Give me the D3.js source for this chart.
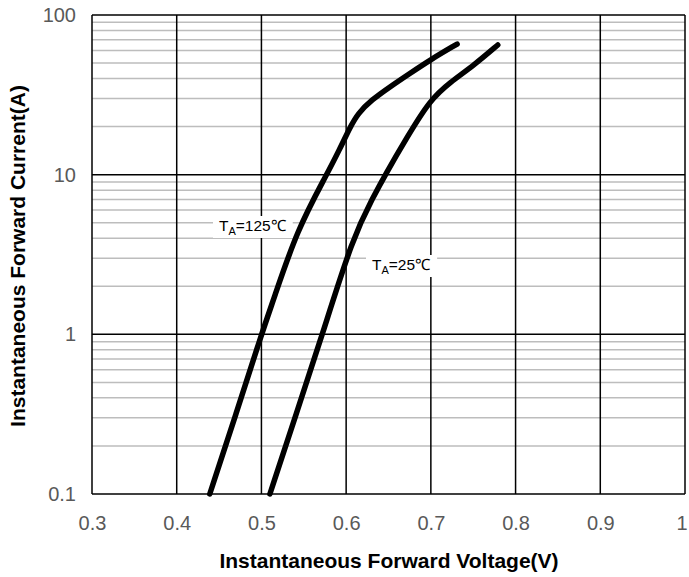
<!DOCTYPE html>
<html>
<head>
<meta charset="utf-8">
<script src="https://cdn.jsdelivr.net/npm/d3@7"></script>
<style>
  body { margin: 0; background: #fff; }
  svg { display: block; font-family: "Liberation Sans", Arial, sans-serif; }
</style>
</head>
<body>
<div class="viz"></div>
<script>
// data
var xTicks = [0.3, 0.4, 0.5, 0.6, 0.7, 0.8, 0.9, 1];
var yTicks = [0.1, 1, 10, 100];
var v125 = [0.439, 0.47, 0.5, 0.514, 0.542, 0.577, 0.592, 0.605, 0.614, 0.63, 0.652, 0.675, 0.699, 0.731];
var i125 = [0.1, 0.316, 1, 1.63, 4.5, 10, 14.3, 20, 24.2, 29.4, 35.6, 43, 52.3, 65.8];
var v25 = [0.51, 0.541, 0.572, 0.608, 0.632, 0.646, 0.672, 0.699, 0.723, 0.75, 0.779];
var i25 = [0.1, 0.316, 1, 4.07, 7.24, 9.96, 17.2, 29.4, 38, 48, 64.9];
var labels = ["T", "A", "=125℃", "=25℃"];

var SVGwd = 689, SVGht = 577;
var margin = { left: 92, right: 4, top: 15, bottom: 83 };

var canvas = d3.select(".viz")
    .append("svg")
    .attr("width", SVGwd)
    .attr("height", SVGht);

var x = d3.scaleLinear().domain([0.3, 1]).range([margin.left, SVGwd - margin.right]);
var y = d3.scaleLog().domain([0.1, 100]).range([SVGht - margin.bottom, margin.top]);

// minor grid
var minor = [];
[0.1, 1, 10].forEach(function (d) {
    for (var k = 2; k <= 9; k++) minor.push(d * k);
});

var grid = canvas.append("g");
grid.selectAll(".minor")
    .data(minor)
    .enter().append("line")
    .attr("x1", x(0.3)).attr("x2", x(1))
    .attr("y1", d => y(d)).attr("y2", d => y(d))
    .attr("stroke", "#bdbdbd")
    .attr("stroke-width", 1.5);

grid.selectAll(".major")
    .data(yTicks)
    .enter().append("line")
    .attr("x1", x(0.3)).attr("x2", x(1))
    .attr("y1", d => y(d)).attr("y2", d => y(d))
    .attr("stroke", "black")
    .attr("stroke-width", 1.5);

grid.selectAll(".vert")
    .data(xTicks)
    .enter().append("line")
    .attr("x1", d => x(d)).attr("x2", d => x(d))
    .attr("y1", y(0.1)).attr("y2", y(100))
    .attr("stroke", "black")
    .attr("stroke-width", 1.5);

// axes (labels only)
var xAxis = canvas.append("g")
    .attr("transform", `translate(0, ${y(0.1)})`)
    .call(d3.axisBottom(x).tickValues(xTicks).tickSize(0).tickPadding(22).tickFormat(d3.format("")));
var yAxis = canvas.append("g")
    .attr("transform", `translate(${x(0.3)}, 0)`)
    .call(d3.axisLeft(y).tickValues(yTicks).tickSize(0).tickPadding(16).tickFormat(d3.format("")));
[xAxis, yAxis].forEach(function (a) {
    a.select(".domain").remove();
    a.selectAll("text")
        .style("font-family", "Liberation Sans, Arial, sans-serif")
        .style("font-size", "20px")
        .attr("fill", "#595959");
});
// last x label sits on the edge, keep it inside
xAxis.selectAll("text").filter(d => d === 1).attr("text-anchor", "end").attr("dx", 2);

// curves
var line = d3.line()
    .x(d => x(d[0]))
    .y(d => y(d[1]))
    .curve(d3.curveBasis);

[[v125, i125], [v25, i25]].forEach(function (s) {
    var pts = s[0].map((v, k) => [v, s[1][k]]);
    canvas.append("path")
        .datum(pts)
        .attr("fill", "none")
        .attr("stroke", "black")
        .attr("stroke-width", 5.5)
        .attr("stroke-linecap", "round")
        .attr("d", line);
});

// curve labels
function addLabel(px, py, rest) {
    var g = canvas.append("g");
    var bg = g.append("rect").attr("fill", "white");
    var t = g.append("text")
        .attr("x", px).attr("y", py)
        .style("font-size", "15.5px")
        .attr("fill", "black");
    t.append("tspan").text(labels[0]);
    t.append("tspan").text(labels[1]).attr("dy", 4).style("font-size", "11px");
    t.append("tspan").text(rest).attr("dy", -4);
    var b = t.node().getBBox();
    bg.attr("x", b.x - 6).attr("y", b.y - 1).attr("width", b.width + 12).attr("height", b.height + 2);
}
addLabel(219, 231, labels[2]);
addLabel(372, 270, labels[3]);

// titles
canvas.append("text")
    .attr("x", 389).attr("y", 568)
    .attr("text-anchor", "middle")
    .style("font-size", "21px")
    .style("font-weight", "bold")
    .attr("fill", "black")
    .text("Instantaneous Forward Voltage(V)");

canvas.append("text")
    .attr("transform", "translate(25, 256) rotate(-90)")
    .attr("text-anchor", "middle")
    .style("font-size", "21px")
    .style("font-weight", "bold")
    .attr("fill", "black")
    .text("Instantaneous Forward Current(A)");
</script>
</body>
</html>
